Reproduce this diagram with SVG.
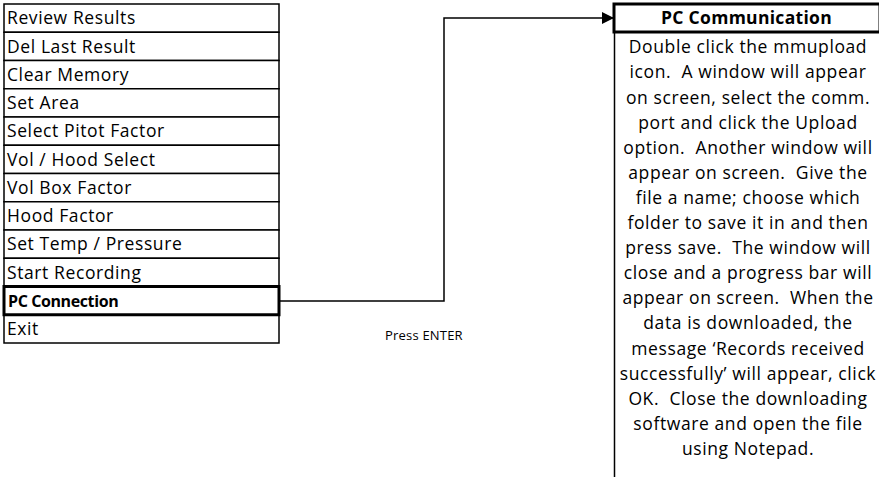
<svg xmlns="http://www.w3.org/2000/svg" width="879" height="477" viewBox="0 0 879 477">
  <style>
    text { font-family: "Open Sans", "Liberation Sans", sans-serif; fill: #000; white-space: pre; }
    .item { font-size: 17.5px; letter-spacing: 0.6px; }
    .sel { font-size: 16px; font-weight: bold; letter-spacing: -0.4px; }
    .body { font-size: 17.5px; letter-spacing: 0.6px; text-anchor: middle; }
    .head { font-size: 17.5px; font-weight: bold; letter-spacing: 0.3px; text-anchor: middle; }
    .lbl { font-size: 13px; letter-spacing: 0.2px; }
    .row { fill: #fff; stroke: #000; stroke-width: 1.5; }
    .row-sel { fill: #fff; stroke: #000; stroke-width: 3; }
    .edge { fill: none; stroke: #000; stroke-width: 1.5; }
  </style>
  <defs>
    <marker id="arrow" viewBox="0 0 10 10" refX="10" refY="5" markerWidth="13" markerHeight="12" markerUnits="userSpaceOnUse" orient="auto">
      <path d="M0,0 L10,5 L0,10 Z" fill="#000"/>
    </marker>
  </defs>

  <!-- menu list -->
  <g id="menu">
    <g id="item-review"><rect class="row" x="4" y="4" width="275" height="28.25"/><text class="item" x="7" y="24.3">Review Results</text></g>
    <g id="item-del"><rect class="row" x="4" y="32.25" width="275" height="28.25"/><text class="item" x="7" y="52.6">Del Last Result</text></g>
    <g id="item-clear"><rect class="row" x="4" y="60.5" width="275" height="28.25"/><text class="item" x="7" y="80.8">Clear Memory</text></g>
    <g id="item-area"><rect class="row" x="4" y="88.75" width="275" height="28.25"/><text class="item" x="7" y="109.1">Set Area</text></g>
    <g id="item-pitot"><rect class="row" x="4" y="117" width="275" height="28.25"/><text class="item" x="7" y="137.3">Select Pitot Factor</text></g>
    <g id="item-volhood"><rect class="row" x="4" y="145.25" width="275" height="28.25"/><text class="item" x="7" y="165.6">Vol / Hood Select</text></g>
    <g id="item-volbox"><rect class="row" x="4" y="173.5" width="275" height="28.25"/><text class="item" x="7" y="193.8">Vol Box Factor</text></g>
    <g id="item-hood"><rect class="row" x="4" y="201.75" width="275" height="28.25"/><text class="item" x="7" y="222.1">Hood Factor</text></g>
    <g id="item-temp"><rect class="row" x="4" y="230" width="275" height="28.25"/><text class="item" x="7" y="250.3">Set Temp / Pressure</text></g>
    <g id="item-start"><rect class="row" x="4" y="258.25" width="275" height="28.25"/><text class="item" x="7" y="278.6">Start Recording</text></g>
    <g id="item-exit"><rect class="row" x="4" y="314.75" width="275" height="28.25"/><text class="item" x="7" y="335.1">Exit</text></g>
    <g id="item-pc"><rect class="row-sel" x="4" y="286.5" width="275" height="28.25"/><text class="sel" x="8" y="306.6">PC Connection</text></g>
  </g>

  <!-- connectors -->
  <g id="connectors">
    <polyline class="edge" points="280,301 444,301 444,18 614,18" marker-end="url(#arrow)"/>
  </g>

  <g id="label-enter">
    <text class="lbl" x="385" y="339.5">Press ENTER</text>
  </g>

  <!-- PC communication panel -->
  <g id="pc-communication">
    <rect class="row-sel" x="614" y="4" width="266" height="28"/>
    <line x1="614.5" y1="32" x2="614.5" y2="477" stroke="#000" stroke-width="1.5"/>
    <text class="head" x="746.5" y="24.3">PC Communication</text>
    <text class="body" x="748" y="53.3">Double click the mmupload</text>
    <text class="body" x="748" y="78.4">icon.  A window will appear</text>
    <text class="body" x="748" y="103.5">on screen, select the comm.</text>
    <text class="body" x="748" y="128.6">port and click the Upload</text>
    <text class="body" x="748" y="153.7">option.  Another window will</text>
    <text class="body" x="748" y="178.8">appear on screen.  Give the</text>
    <text class="body" x="748" y="203.9">file a name; choose which</text>
    <text class="body" x="748" y="229">folder to save it in and then</text>
    <text class="body" x="748" y="254.1">press save.  The window will</text>
    <text class="body" x="748" y="279.2">close and a progress bar will</text>
    <text class="body" x="748" y="304.3">appear on screen.  When the</text>
    <text class="body" x="748" y="329.4">data is downloaded, the</text>
    <text class="body" x="748" y="354.5">message ‘Records received</text>
    <text class="body" x="748" y="379.6">successfully’ will appear, click</text>
    <text class="body" x="748" y="404.7">OK.  Close the downloading</text>
    <text class="body" x="748" y="429.8">software and open the file</text>
    <text class="body" x="748" y="454.9">using Notepad.</text>
  </g>
</svg>
